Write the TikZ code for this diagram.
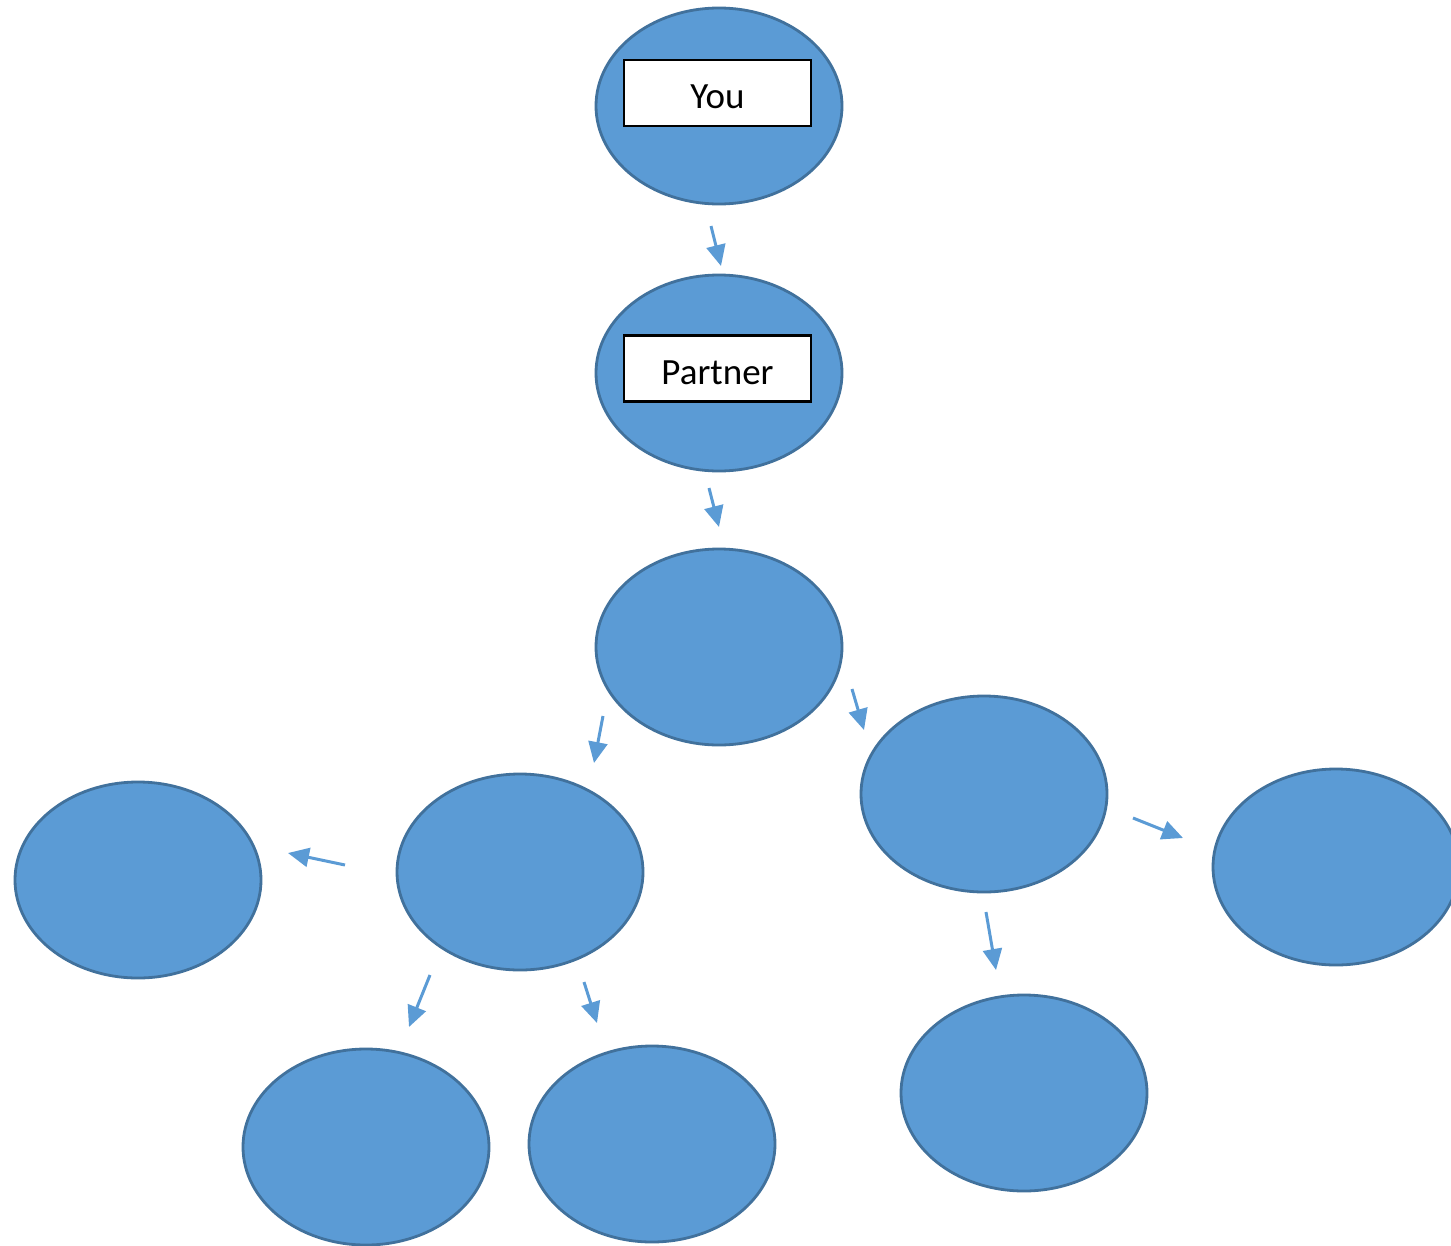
\documentclass[tikz,border=0pt]{standalone}
\usepackage{fontspec}
\setmainfont{Carlito}
\usetikzlibrary{shapes.geometric,arrows.meta}
\definecolor{fillblue}{HTML}{5B9BD5}
\definecolor{edgeblue}{HTML}{41719C}
\tikzset{
  bubble/.style={ellipse, fill=fillblue, draw=edgeblue, line width=2.8pt, minimum width=246pt, minimum height=196pt, inner sep=0pt},
  labelbox/.style={rectangle, fill=white, draw=black, line width=2.2pt, minimum width=187pt, minimum height=66pt, inner sep=0pt, text height=31pt, text depth=0pt, font=\fontsize{37}{42}\selectfont},
  link/.style={draw=fillblue, line width=3pt, -{Triangle[length=21pt,width=19pt]}}
}
\begin{document}
\begin{tikzpicture}[x=1pt,y=-1pt]
\useasboundingbox (0,0) rectangle (1451,1245);
\begin{scope}
\clip (0,0) rectangle (1451,1245);
\node[bubble] (you) at (719,106) {};
\node[bubble] (partner) at (719,373) {};
\node[bubble] (child) at (719,647) {};
\node[bubble] (lmid) at (520,872) {};
\node[bubble] (far left) at (138,880) {};
\node[bubble] (rmid) at (984,794) {};
\node[bubble] (far right) at (1336,867) {};
\node[bubble] (bot1) at (366,1147) {};
\node[bubble] (bot2) at (652,1144) {};
\node[bubble] (bot3) at (1024,1093) {};
\end{scope}
\node[labelbox] (youbox) at (717.5,93) {You};
\node[labelbox] (partnerbox) at (717.5,368.5) {Partner};
\coordinate (a1s) at (711,226); \coordinate (a1e) at (721,266);
\coordinate (a2s) at (709,488); \coordinate (a2e) at (719,527);
\coordinate (a3s) at (603,716); \coordinate (a3e) at (594,763);
\coordinate (a4s) at (852,689); \coordinate (a4e) at (864,730);
\coordinate (a5s) at (345,865); \coordinate (a5e) at (288,853);
\coordinate (a6s) at (1133,818); \coordinate (a6e) at (1183,838);
\coordinate (a7s) at (430,975); \coordinate (a7e) at (409,1027);
\coordinate (a8s) at (584,982); \coordinate (a8e) at (597,1023);
\coordinate (a9s) at (986,912); \coordinate (a9e) at (996,970);
\foreach \i in {1,...,9} {\draw[link] (a\i s) -- (a\i e);}
\end{tikzpicture}
\end{document}
